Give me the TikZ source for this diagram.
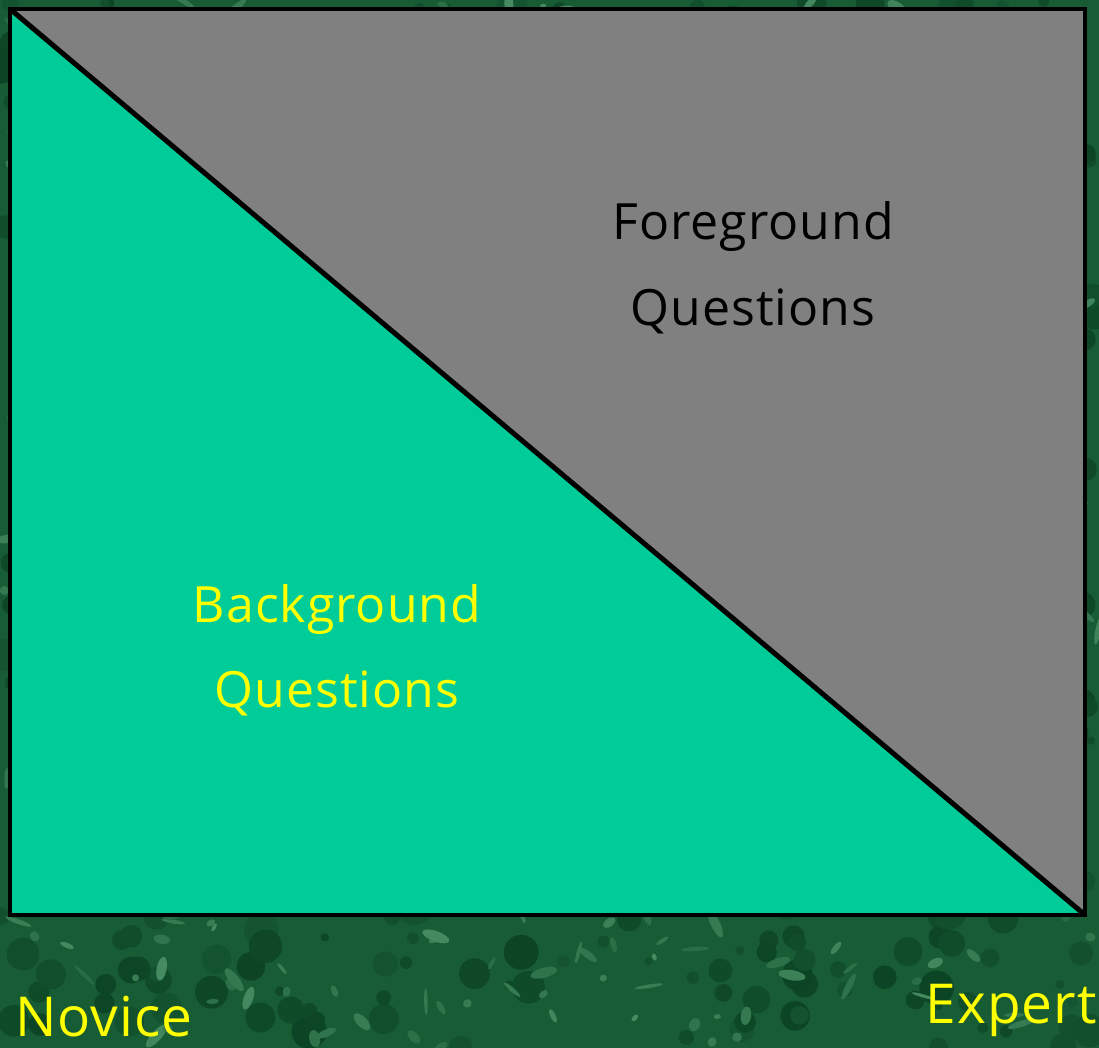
\documentclass[tikz,border=0pt]{standalone}
\usepackage{fontspec}
\setmainfont[LetterSpace=2]{Open Sans}
\definecolor{marble}{RGB}{24,92,54}
\definecolor{vein}{RGB}{95,165,120}
\definecolor{shade}{RGB}{4,52,24}
\definecolor{novicegreen}{RGB}{0,204,153}
\definecolor{expertgray}{RGB}{128,128,128}
\definecolor{labelyellow}{RGB}{255,255,0}
\tikzset{
  labeltext/.style={font=\fontsize{50}{60}\selectfont, anchor=base, inner sep=0pt},
  cornertext/.style={labeltext, labelyellow, font=\fontsize{55}{60}\selectfont},
  frame/.style={draw=black, line width=4pt},
}
\begin{document}
\begin{tikzpicture}[x=1pt,y=-1pt]
  \useasboundingbox (0,0) rectangle (1099,1048);
  % marble ground
  \begin{scope}
    \clip (0,0) rectangle (1099,1048);
    \fill[marble] (0,0) rectangle (1099,1048);
    \pgfmathsetseed{11}
    \foreach \i in {1,...,700}{
      \pgfmathsetmacro{\px}{rnd*1099}
      \pgfmathsetmacro{\py}{rnd*1048}
      \pgfmathsetmacro{\rx}{4+rnd*14}
      \pgfmathtruncatemacro{\mix}{20+rnd*40}
      \fill[shade!\mix!marble] (\px,\py) circle ({\rx pt});
    }
    \foreach \i in {1,...,600}{
      \pgfmathsetmacro{\px}{rnd*1099}
      \pgfmathsetmacro{\py}{rnd*1048}
      \pgfmathsetmacro{\rx}{3+rnd*12}
      \pgfmathsetmacro{\ry}{1.5+rnd*4}
      \pgfmathsetmacro{\rot}{rnd*180}
      \pgfmathtruncatemacro{\mix}{20+rnd*45}
      \fill[vein!\mix!marble, rotate around={\rot:(\px,\py)}]
        (\px,\py) ellipse ({\rx pt} and {\ry pt});
    }
  \end{scope}

  % corners of the box
  \coordinate (nw) at (10,9);
  \coordinate (ne) at (1085,9);
  \coordinate (se) at (1085,915);
  \coordinate (sw) at (10,915);

  \fill[expertgray] (nw) -- (ne) -- (se) -- cycle;
  \fill[novicegreen] (nw) -- (sw) -- (se) -- cycle;
  \draw[frame] (nw) rectangle (se);
  \draw[line width=5pt] (nw) -- (se);

  \node[labeltext] (fg) at (753,240) {Foreground};
  \node[labeltext] (fq) at (753,325) {Questions};
  \node[labeltext, labelyellow] (bg) at (337,622) {Background};
  \node[labeltext, labelyellow] (bq) at (337,707) {Questions};
  \node[cornertext, anchor=base west] (novice) at (15,1036) {Novice};
  \node[cornertext, anchor=base east] (expert) at (1097,1023) {Expert};
\end{tikzpicture}
\end{document}
